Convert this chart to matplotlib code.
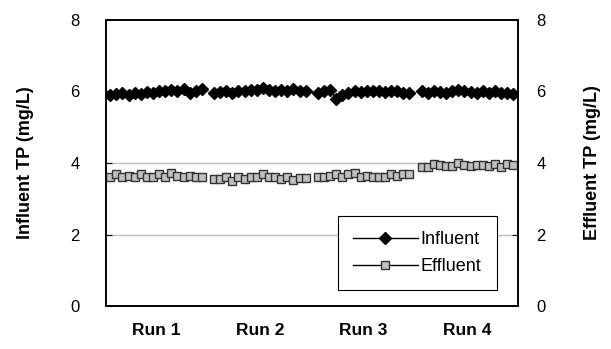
import matplotlib
matplotlib.use("Agg")
import matplotlib.pyplot as plt
import numpy as np

plt.rcParams['font.family'] = ['Liberation Sans', 'DejaVu Sans']

runs = ["Run 1", "Run 2", "Run 3", "Run 4"]

influent = [
    [5.90, 5.92, 5.95, 5.90, 5.96, 5.93, 5.98, 5.97, 6.02, 6.00, 6.05, 6.00, 6.08, 5.97, 6.02, 6.07],
    [5.95, 5.98, 6.00, 5.97, 6.02, 6.00, 6.05, 6.03, 6.10, 6.03, 6.00, 6.05, 6.02, 6.08, 6.00, 6.02],
    [5.95, 6.00, 6.05, 5.80, 5.90, 5.97, 6.00, 5.98, 6.02, 6.00, 6.02, 5.98, 6.00, 6.02, 5.97, 5.95],
    [6.00, 5.97, 6.02, 5.98, 5.95, 6.00, 6.05, 6.00, 5.98, 5.95, 6.02, 5.96, 6.00, 5.95, 5.97, 5.93],
]
effluent = [
    [3.62, 3.68, 3.60, 3.65, 3.62, 3.68, 3.62, 3.60, 3.68, 3.62, 3.72, 3.65, 3.60, 3.65, 3.62, 3.60],
    [3.55, 3.55, 3.60, 3.50, 3.62, 3.55, 3.62, 3.60, 3.68, 3.62, 3.60, 3.55, 3.60, 3.52, 3.58, 3.58],
    [3.62, 3.62, 3.65, 3.70, 3.62, 3.68, 3.72, 3.62, 3.65, 3.60, 3.62, 3.62, 3.68, 3.65, 3.70, 3.68],
    [3.88, 3.90, 3.98, 3.95, 3.92, 3.92, 4.00, 3.95, 3.92, 3.95, 3.95, 3.92, 3.98, 3.90, 3.98, 3.95],
]

# join the runs with one empty slot between them
def join(groups):
    out = []
    for i, g in enumerate(groups):
        out += g
        if i < len(groups) - 1:
            out.append(np.nan)
    return np.array(out)

inf = join(influent)
eff = join(effluent)
x = np.arange(len(inf))
n = len(influent[0])
centers = [i * (n + 1) + (n - 1) / 2 for i in range(len(runs))]

fig = plt.figure(figsize=(6.11, 3.49), dpi=100)
ax = fig.add_axes([0.1735, 0.123, 0.6745, 0.82])
ax2 = ax.twinx()

for a in (ax, ax2):
    a.set_ylim(0, 8)
    a.set_yticks([0, 2, 4, 6, 8])
    a.tick_params(axis='y', direction='in', length=4, labelsize=12)
    for s in a.spines.values():
        s.set_linewidth(1.2)
ax.tick_params(axis='y', pad=19)
ax2.tick_params(axis='y', pad=13)

ax.set_xlim(-0.7, x[-1] + 0.8)
ax.set_axisbelow(True)
for yv in [2, 4, 6]:
    ax.axhline(yv, color='#bdbdbd', lw=1, zorder=0)

l1, = ax.plot(x, inf, color='black', marker='D', ms=6, lw=1, label='Influent')
l2, = ax2.plot(x, eff, color='black', marker='s', ms=6, mfc='#c0c0c0', mec='#333333',
               mew=1, lw=1, label='Effluent')

ax.set_xticks(centers)
ax.set_xticklabels(runs, fontweight='bold', fontsize=12.5)
ax.tick_params(axis='x', length=0, pad=12)

ax.set_ylabel('Influent TP (mg/L)', fontweight='bold', fontsize=13, labelpad=26)
ax2.set_ylabel('Effluent TP (mg/L)', fontweight='bold', fontsize=13, labelpad=28)

leg = ax2.legend([l1, l2], ['Influent', 'Effluent'], loc='lower right',
                 bbox_to_anchor=(0.948, 0.055), fontsize=13, frameon=True,
                 fancybox=False, edgecolor='black', framealpha=1,
                 handlelength=3.6, handletextpad=0.15, borderpad=0.85,
                 labelspacing=0.55, borderaxespad=0.0)
leg.get_frame().set_linewidth(0.8)

fig.savefig('out.png', dpi=100)
